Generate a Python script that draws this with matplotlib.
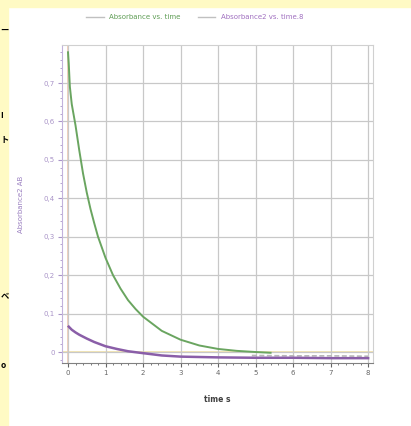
import matplotlib
matplotlib.use('Agg')
import matplotlib.pyplot as plt
from matplotlib.ticker import MultipleLocator, FuncFormatter
import numpy as np

# series
t_abs = [0.0, 0.02, 0.05, 0.1, 0.2, 0.3, 0.4, 0.5, 0.6, 0.7, 0.8, 1.0, 1.2, 1.4,
         1.6, 1.8, 2.0, 2.5, 3.0, 3.5, 4.0, 4.5, 5.0, 5.4]
abs1 = [0.78, 0.75, 0.69, 0.645, 0.59, 0.525, 0.465, 0.415, 0.372, 0.335, 0.30, 0.245,
        0.20, 0.165, 0.135, 0.112, 0.092, 0.055, 0.032, 0.017, 0.008, 0.003, 0.0, -0.002]
t_abs2 = [0.02, 0.1, 0.2, 0.3, 0.5, 0.7, 1.0, 1.3, 1.6, 2.0, 2.5, 3.0, 4.0, 5.0,
          6.0, 7.0, 8.0]
abs2 = [0.066, 0.058, 0.051, 0.045, 0.035, 0.026, 0.015, 0.008, 0.002, -0.003,
        -0.009, -0.012, -0.014, -0.015, -0.015, -0.016, -0.016]
t_tail = [4.9, 6.0, 7.0, 8.0]
tail = [-0.009, -0.010, -0.010, -0.011]

labels = ['Absorbance vs. time', 'Absorbance2 vs. time.8']
xticks = list(range(0, 9))
yticks = [0, 0.1, 0.2, 0.3, 0.4, 0.5, 0.6, 0.7]

fig = plt.figure(figsize=(4.11, 4.26), dpi=100)
fig.patch.set_facecolor('white')
# slide background strips
fig.patches.append(plt.Rectangle((0, 1 - 7 / 426), 1, 7 / 426, transform=fig.transFigure,
                                 color='#fffac4', zorder=0))
fig.patches.append(plt.Rectangle((0, 0), 8 / 411, 1, transform=fig.transFigure,
                                 color='#fffac4', zorder=0))
for y, ch in [(30, 'ー'), (115, 'I'), (140, 'ト'), (297, 'ベ'), (365, 'o')]:
    fig.text(0.5 / 411, 1 - y / 426, ch, fontsize=6, color='black', va='center',
             fontweight='bold', family=['Noto Sans CJK JP', 'DejaVu Sans'])

ax = fig.add_axes([62 / 411, 63 / 426, 311 / 411, 318 / 426])
ax.set_xlim(-0.16, 8.13)
ax.set_ylim(-0.0286, 0.799)

ax.axhline(0, color='#f3e3a6', lw=1.2, zorder=1)
ax.axvline(0, color='#f2c9b0', lw=1.2, zorder=1)
ax.plot(t_tail, tail, color='#b8b8b8', lw=1.2, ls=(0, (3, 1.5)), zorder=2)
ax.plot(t_abs, abs1, color='#6aa560', lw=1.4, zorder=3, label=labels[0])
ax.plot(t_abs2, abs2, color='#8a5ea8', lw=1.8, zorder=3, label=labels[1])

ax.set_xticks(xticks)
ax.set_yticks(yticks)
ax.xaxis.set_minor_locator(MultipleLocator(0.2))
ax.yaxis.set_minor_locator(MultipleLocator(0.02))
ax.yaxis.set_major_formatter(FuncFormatter(lambda v, p: '0' if abs(v) < 1e-9 else ('%.1f' % v).replace('.', ',')))
ax.grid(True, which='major', color='#c8c8c8', lw=0.9)
ax.tick_params(axis='x', which='both', direction='out', colors='#666666', labelsize=5, pad=2)
ax.tick_params(axis='y', which='both', direction='out', colors='#a994c8', labelsize=5, pad=2)
ax.tick_params(which='major', length=3)
ax.tick_params(which='minor', length=1.5)
for s in ['top', 'right']:
    ax.spines[s].set_color('#d0d0d0')
ax.spines['left'].set_color('#c2b2dc')
ax.spines['bottom'].set_color('#808080')

ax.set_xlabel('time s', fontsize=5.5, color='#404040', fontweight='bold', labelpad=14)
ax.set_ylabel('Absorbance2 AB', fontsize=5, color='#9a7fc0', labelpad=14)

leg = fig.legend(loc='center', bbox_to_anchor=(195 / 411, 1 - 17 / 426), ncol=2,
                 frameon=False, fontsize=5, handlelength=2.5, columnspacing=2.5)
for txt, c in zip(leg.get_texts(), ['#5f9d55', '#a070c0']):
    txt.set_color(c)
for h in leg.get_lines():
    h.set_color('#c0c0c0')
    h.set_linewidth(1)

fig.savefig('out.png', dpi=100)
